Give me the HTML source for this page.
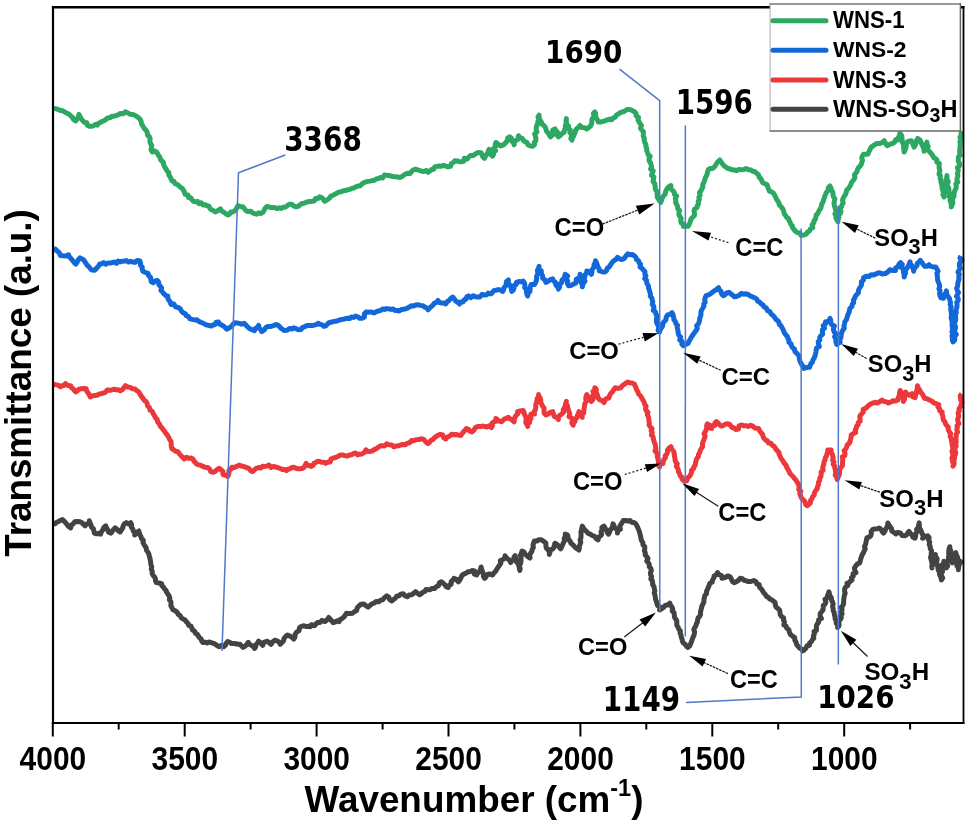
<!DOCTYPE html><html><head><meta charset="utf-8"><title>FTIR spectra</title><style>html,body{margin:0;padding:0;background:#fff;}svg{display:block;}text{font-family:"Liberation Sans",Arial,sans-serif;}</style></head><body>
<svg width="968" height="824" viewBox="0 0 968 824">
<rect width="968" height="824" fill="#fff"/>
<g fill="none" stroke-width="5.0" stroke-linejoin="round" stroke-linecap="butt">
<polyline stroke="#2DA862" points="54.0,108.5 55.2,108.6 57.6,109.2 59.9,110.3 62.4,110.7 64.5,111.9 66.6,113.1 68.9,114.0 70.7,115.8 72.5,117.4 73.6,119.7 75.8,121.0 77.1,118.9 78.4,116.9 78.9,114.4 80.1,116.7 81.4,118.9 83.0,121.0 84.5,122.4 86.8,122.8 87.4,125.3 89.3,126.2 91.4,126.2 93.4,125.9 95.3,124.4 97.5,125.1 98.6,123.0 100.7,122.3 102.5,121.3 104.5,120.5 106.2,119.1 107.9,117.9 110.1,117.6 111.9,116.3 114.1,116.2 116.2,115.6 118.2,114.8 120.4,113.4 123.4,113.7 125.4,111.7 127.7,112.9 129.9,114.2 132.6,114.4 134.6,115.2 136.5,116.3 138.2,117.6 139.9,118.9 141.0,121.3 141.6,123.9 143.0,126.2 143.9,128.0 145.3,129.5 146.6,131.1 147.4,132.9 147.5,135.2 149.2,136.5 150.1,138.6 149.9,141.0 150.3,143.2 151.8,145.2 151.4,147.6 151.1,149.9 152.3,152.0 154.4,150.8 156.4,152.0 157.6,153.7 158.5,155.5 159.9,157.1 160.3,159.2 161.6,160.8 163.3,162.2 163.6,164.4 164.5,166.7 165.9,168.7 167.0,170.9 168.8,172.6 168.8,175.0 170.1,176.8 171.1,178.9 171.9,180.9 174.0,181.5 175.0,183.7 177.1,184.3 178.7,185.6 180.2,187.1 182.2,188.3 183.4,190.2 184.5,192.1 185.1,194.4 188.0,194.9 188.4,197.4 190.6,197.7 191.8,199.6 193.2,201.2 195.2,201.8 197.7,201.6 198.8,203.6 201.2,202.7 202.8,204.9 205.1,204.7 207.0,205.7 209.1,206.4 210.0,208.6 211.6,209.9 213.6,210.7 215.3,211.9 217.1,211.0 218.9,210.1 220.5,208.8 221.7,211.1 223.9,212.2 225.7,213.7 227.7,215.0 229.6,214.2 230.7,212.1 232.9,211.9 234.8,210.8 235.9,209.2 237.0,207.5 238.0,205.7 240.0,206.4 242.7,206.7 244.4,208.7 246.0,210.7 248.3,211.6 250.7,211.2 252.5,212.8 254.5,213.6 256.6,214.2 258.6,212.8 260.7,213.6 263.0,212.4 264.1,210.2 265.3,208.1 266.9,206.4 268.9,206.9 270.9,207.5 273.0,207.4 275.1,207.7 277.1,208.6 279.3,207.8 281.3,208.5 283.3,207.2 285.7,207.0 287.5,205.4 289.6,204.3 291.8,204.3 293.6,205.9 295.6,206.7 297.9,206.4 299.8,205.1 301.6,203.6 304.0,203.3 306.1,202.3 308.2,201.8 310.2,201.4 312.3,201.2 314.5,200.8 315.6,198.4 318.1,198.5 319.5,196.7 321.7,197.6 323.3,199.3 324.7,201.2 326.5,200.2 328.2,199.2 329.7,197.8 330.9,196.1 333.1,195.2 335.1,194.1 337.2,193.0 339.2,191.9 341.3,191.7 343.3,190.8 345.4,190.6 347.4,189.9 349.6,189.4 351.6,188.4 353.8,188.0 355.7,186.8 357.9,186.1 360.4,185.8 362.0,183.8 364.0,182.6 366.0,181.9 368.0,181.4 370.1,181.1 372.2,180.6 374.5,180.3 376.3,178.9 378.5,178.5 380.5,177.5 382.8,178.0 384.3,175.0 386.6,175.3 388.8,175.4 390.8,176.0 392.9,176.5 395.0,176.8 397.1,176.8 399.1,177.5 401.4,176.8 403.3,175.6 405.2,174.1 407.4,173.3 410.1,173.6 411.6,171.4 413.4,169.9 415.6,169.2 417.7,169.8 419.8,170.5 421.8,171.3 423.9,171.6 426.2,170.4 428.0,172.3 430.0,170.9 431.5,169.5 433.7,169.2 434.7,166.9 436.8,166.4 439.1,166.0 441.4,166.2 443.6,165.2 445.8,166.1 448.0,166.9 450.5,166.4 451.2,163.9 453.3,162.5 455.0,160.7 457.3,160.9 459.5,161.8 461.8,161.8 463.9,161.2 464.3,158.2 467.3,159.0 468.6,157.3 470.5,155.4 473.4,155.4 475.5,153.9 478.1,152.4 481.1,152.7 482.1,154.7 482.8,156.9 484.5,158.4 485.3,156.5 486.4,154.8 487.7,153.2 488.3,151.2 489.1,149.3 490.3,151.5 490.5,154.2 492.5,156.1 493.6,154.3 493.3,152.2 495.6,150.7 493.8,148.2 495.5,146.5 495.3,144.4 495.9,142.5 498.2,144.3 500.5,145.9 502.9,145.1 505.0,143.6 506.2,142.0 507.6,140.4 507.6,138.0 509.5,136.8 511.4,138.3 511.5,141.0 513.5,142.5 514.1,144.8 514.4,142.7 515.1,140.8 517.5,139.7 518.1,137.7 518.6,135.7 519.5,137.8 522.1,138.3 523.2,140.2 524.9,141.6 527.0,142.5 528.0,144.8 530.0,145.9 532.5,146.3 534.5,144.8 534.2,142.6 535.9,140.6 535.9,138.4 535.4,136.2 534.6,133.9 536.9,132.0 536.2,129.8 536.2,127.6 536.8,125.5 537.5,123.5 538.0,121.4 539.1,119.5 538.0,117.1 539.1,115.2 539.2,117.7 539.8,120.0 541.4,122.0 541.8,124.2 543.7,125.4 545.1,126.9 545.9,128.9 546.5,131.2 548.1,132.9 549.3,134.9 550.5,136.8 552.4,135.2 552.6,132.8 552.7,130.2 555.0,128.9 556.1,130.8 557.7,132.4 557.1,135.0 558.4,136.8 560.4,135.4 562.0,133.5 564.1,132.3 564.5,130.0 565.4,127.8 565.3,125.5 566.4,123.3 566.0,120.9 566.4,118.6 566.3,120.7 566.5,122.7 566.9,124.7 568.7,126.3 568.3,128.5 570.4,130.1 569.8,132.3 571.0,134.1 572.0,135.9 570.8,138.4 572.0,140.2 572.1,138.0 573.5,136.4 574.2,134.5 575.1,132.7 575.5,130.6 576.6,128.9 578.4,127.3 580.0,125.5 581.8,127.6 584.5,127.8 586.8,128.9 588.6,127.6 590.3,126.3 591.4,124.3 591.9,122.2 591.8,119.9 592.8,118.0 594.3,116.1 593.3,113.6 594.8,111.8 595.8,113.7 595.6,116.1 596.4,118.1 597.5,120.0 598.2,122.0 600.5,122.1 602.7,121.4 605.0,120.9 607.2,119.8 609.4,119.2 611.8,119.8 613.1,118.0 615.3,117.1 616.4,115.2 618.5,113.8 620.7,112.4 623.2,111.8 625.3,110.6 627.4,109.4 630.0,109.5 632.3,110.6 634.5,111.8 636.1,113.5 636.1,115.9 638.5,117.2 638.0,119.9 639.1,121.8 640.1,123.8 641.5,125.6 640.5,128.1 641.7,130.0 643.5,131.7 643.3,134.0 643.3,136.3 644.3,138.2 644.2,140.5 644.9,142.6 645.9,144.5 646.0,146.6 646.7,148.6 646.7,150.8 647.6,152.7 648.2,154.7 650.2,156.3 649.0,158.8 649.2,160.9 650.5,162.7 651.1,164.7 651.6,166.8 650.6,169.1 653.2,170.8 652.3,173.1 651.5,175.4 653.9,177.1 653.4,179.4 653.1,181.6 654.7,183.4 655.0,185.5 655.2,187.5 655.4,189.5 657.0,191.2 657.0,193.3 657.3,195.3 657.4,197.3 658.4,199.1 659.6,200.8 660.7,202.5 661.5,200.4 662.0,198.1 663.4,196.2 665.0,194.4 665.5,192.1 666.4,190.0 667.5,188.1 669.0,186.6 670.9,185.5 670.6,188.5 672.6,190.3 674.3,192.3 674.4,194.4 676.7,196.0 675.3,198.5 675.9,200.5 675.6,202.7 676.8,204.6 677.6,206.6 677.7,208.7 679.6,210.4 678.9,212.7 679.0,214.9 680.0,216.7 681.2,218.4 680.7,220.8 681.1,222.8 683.6,224.2 683.4,226.4 685.7,226.0 688.0,226.4 689.1,224.7 689.9,222.8 690.5,220.8 691.1,218.9 692.5,217.3 694.4,215.7 694.5,213.5 694.0,211.1 694.6,209.1 697.0,207.7 697.3,205.6 698.5,203.8 698.2,201.4 699.3,199.5 698.9,197.1 700.2,195.2 699.4,192.7 700.9,190.9 701.9,189.0 702.8,187.0 702.7,184.7 703.7,182.7 704.6,180.8 705.0,178.6 706.1,176.4 707.1,174.2 707.7,171.8 708.4,169.5 710.2,168.6 712.4,168.5 714.1,167.3 715.5,165.5 716.6,163.3 718.1,161.6 719.8,160.0 720.9,161.7 722.1,163.3 723.2,165.0 725.4,166.8 727.7,168.4 730.0,169.0 732.2,169.7 734.5,170.0 736.8,170.7 738.9,169.4 741.4,169.8 743.8,169.6 745.9,168.4 748.1,169.5 750.5,170.0 752.6,171.2 755.0,171.8 756.8,173.3 758.6,174.8 759.1,177.3 760.9,178.7 761.8,180.9 762.8,182.8 765.0,183.7 767.1,184.7 767.7,186.9 768.6,188.9 769.3,191.1 771.5,191.9 773.4,193.1 774.5,194.9 775.5,196.8 776.4,198.9 777.5,200.8 778.8,202.6 779.3,204.9 780.8,206.5 782.3,208.2 783.3,210.0 783.9,211.9 784.3,214.0 785.7,215.6 786.6,217.4 788.7,218.6 789.1,220.7 790.2,222.4 790.8,224.4 792.4,225.8 792.7,227.9 794.0,229.5 795.3,231.0 797.2,232.5 799.6,232.9 801.0,235.4 803.8,235.0 806.1,234.2 807.5,232.2 809.5,230.9 810.5,228.9 812.8,227.5 812.1,224.7 813.7,223.0 814.1,220.7 815.5,219.1 815.9,217.1 816.2,214.9 817.8,213.5 818.6,211.6 819.6,209.8 820.8,208.1 821.3,206.1 821.7,204.0 822.9,202.3 823.5,200.3 824.1,198.3 824.8,196.4 825.5,194.5 826.5,192.3 828.1,190.4 828.3,187.8 830.0,186.0 831.0,188.0 831.4,190.3 832.9,192.2 833.0,194.6 833.4,196.8 834.9,198.7 834.4,201.0 834.0,203.2 834.3,205.3 835.0,207.3 835.4,209.4 836.5,211.4 834.9,213.8 836.0,215.8 835.9,218.0 836.9,220.0 838.0,221.8 838.0,219.6 838.9,217.5 838.4,215.2 840.4,213.4 841.0,211.3 839.8,208.8 841.4,206.9 842.1,204.8 843.2,202.8 842.5,200.2 843.2,198.0 844.4,196.0 845.7,194.1 846.3,192.0 846.8,189.9 848.6,188.4 849.6,186.6 850.8,184.8 851.4,182.7 852.7,181.0 854.1,179.3 854.9,177.3 854.5,174.7 855.9,173.1 857.1,171.3 857.6,169.2 858.7,167.4 860.3,165.9 861.4,164.2 861.8,162.2 862.5,160.3 861.7,158.0 862.4,156.0 863.5,154.2 865.6,154.2 867.8,154.2 868.9,151.8 870.0,149.4 871.3,147.1 873.4,145.6 875.6,144.2 877.7,143.4 879.9,143.5 882.3,142.5 884.2,140.7 885.4,143.3 887.0,145.6 888.9,144.9 890.7,143.8 892.7,143.5 894.5,142.2 895.6,139.7 898.4,139.9 898.3,137.6 899.4,135.6 899.9,133.5 901.8,135.7 902.0,138.5 902.2,140.8 902.6,143.0 903.9,145.2 903.5,147.5 903.9,149.8 904.1,152.1 905.1,150.0 905.9,147.9 906.2,145.7 906.5,143.4 907.7,141.4 911.3,140.7 912.3,142.8 913.2,145.0 914.1,147.1 915.4,145.1 916.1,142.9 916.4,140.5 917.7,138.5 920.1,140.1 921.2,142.8 922.1,144.9 923.1,146.9 924.0,149.0 924.1,151.3 924.7,149.0 925.2,146.6 926.3,144.4 926.9,142.1 927.1,144.5 928.2,146.6 927.2,149.3 929.1,151.3 931.0,153.3 932.7,155.6 933.6,157.5 935.4,158.5 936.9,159.9 936.8,162.1 939.4,163.5 939.1,165.8 939.1,167.9 939.8,169.9 939.7,171.9 939.0,174.1 940.4,175.9 940.2,178.0 940.7,179.9 940.9,181.9 941.5,183.9 942.1,185.8 942.0,187.9 942.6,189.8 943.7,192.1 942.9,194.7 944.1,197.0 943.8,194.8 944.8,192.7 946.2,190.7 945.1,188.4 945.5,186.3 946.5,184.3 946.1,182.0 945.9,179.8 946.8,177.8 946.9,175.6 946.9,177.7 947.1,179.7 948.3,181.6 947.1,183.9 947.4,185.9 948.7,187.8 949.0,189.8 949.1,192.0 949.8,194.0 949.0,196.3 950.5,198.3 950.0,200.5 950.9,202.6 951.3,204.7 951.2,206.9 952.1,204.9 952.9,202.8 952.6,200.5 952.7,198.3 954.0,196.3 954.0,194.1 954.4,192.1 955.0,190.1 956.1,188.2 956.3,186.1 955.8,183.9 957.8,182.2 956.9,179.9 957.2,177.9 957.9,176.0 957.4,173.8 958.0,171.9 958.3,169.9 957.4,167.7 959.7,165.7 959.6,163.6 958.3,161.3 958.3,159.1 958.4,157.0 960.2,155.0 959.7,152.8 959.6,150.6 960.0,148.4 960.0,146.2 960.3,144.0 959.9,141.8 960.7,139.6 960.0,137.3 961.0,135.2 961.2,133.0 961.6,131.0"/>
<polyline stroke="#1368D9" points="54.0,249.0 55.2,249.0 57.1,251.0 59.3,252.7 60.4,255.5 63.4,255.8 66.1,255.9 68.6,254.8 69.5,257.1 71.2,258.8 72.7,260.5 74.0,262.5 75.8,264.1 77.2,262.0 78.3,259.7 80.0,257.9 82.0,258.9 83.8,260.1 85.1,262.0 86.3,263.9 87.6,265.7 89.3,267.2 91.3,269.7 94.4,270.3 96.0,269.0 97.2,267.4 98.7,266.0 99.6,264.1 101.7,264.0 103.6,262.6 105.8,264.2 107.8,263.1 109.9,263.1 112.0,262.8 114.0,262.0 116.6,263.3 118.2,261.0 120.3,261.8 122.3,261.3 124.4,261.0 126.5,260.6 128.4,262.1 130.6,261.3 132.6,262.0 135.1,262.4 137.3,260.5 139.9,261.0 140.5,263.1 140.5,265.3 142.2,267.0 142.2,269.3 143.0,271.3 145.5,272.5 148.1,273.4 148.6,275.6 150.4,277.0 150.8,279.2 151.1,281.5 153.3,282.7 155.0,280.9 157.4,280.6 158.7,282.3 158.8,284.5 160.3,286.2 161.6,287.9 160.9,290.5 162.6,292.0 163.9,293.9 165.6,295.3 167.8,296.1 167.9,298.4 168.9,300.4 170.5,302.2 170.9,304.4 173.9,304.1 175.5,306.8 178.1,307.5 180.2,308.7 181.3,310.9 182.9,312.7 185.2,313.6 186.4,315.7 188.5,316.6 190.0,318.8 192.3,319.4 194.6,319.9 197.0,319.8 198.8,321.4 200.8,322.3 202.9,323.0 204.8,324.2 206.9,325.1 209.1,325.4 211.2,326.1 213.0,325.0 215.1,324.5 216.2,322.2 218.4,321.9 219.5,324.0 221.5,325.0 223.5,326.1 225.2,327.5 226.7,329.2 229.4,327.8 231.8,326.1 233.1,324.3 234.6,322.8 237.0,323.0 239.4,323.4 241.7,324.2 244.1,323.3 245.9,325.0 247.5,326.8 249.3,328.5 251.9,329.6 254.5,330.6 255.4,328.5 257.5,327.3 258.6,325.4 259.1,327.7 260.6,329.6 261.7,331.6 264.2,330.0 265.8,327.5 268.3,326.4 271.0,326.4 273.7,325.6 276.2,324.4 278.1,325.3 279.6,326.7 281.0,328.3 282.7,329.5 284.4,330.6 287.2,330.1 289.6,328.5 291.7,329.0 293.7,327.8 295.8,328.5 298.2,329.8 301.0,329.5 302.5,327.4 305.1,326.7 307.1,325.4 309.2,325.6 311.2,325.4 313.3,325.4 316.0,324.7 318.5,323.3 320.2,324.4 322.3,324.9 323.7,326.4 325.8,325.8 327.3,324.3 328.8,322.8 330.9,322.3 333.0,321.8 335.0,321.2 337.2,320.9 339.2,320.2 341.2,319.4 343.3,319.3 345.3,318.6 347.4,318.2 349.7,318.6 351.5,316.9 353.8,317.4 355.7,316.1 357.8,316.8 359.6,318.2 361.9,318.2 364.5,316.9 364.4,313.9 366.0,312.0 368.1,312.3 370.2,311.9 372.3,312.3 374.3,313.0 376.2,311.7 378.5,311.0 380.8,310.4 382.6,308.9 384.7,309.4 386.7,308.6 388.8,308.9 390.8,309.4 393.1,308.9 394.9,310.5 397.1,310.4 399.1,311.0 401.0,309.7 403.1,309.2 405.3,308.9 407.5,308.2 409.5,306.9 411.5,305.8 413.6,305.9 415.6,304.9 417.7,304.8 420.3,305.4 422.9,305.8 424.7,307.1 426.9,307.8 428.0,309.9 429.7,308.1 431.4,306.4 433.2,304.8 434.5,303.1 436.7,302.3 438.0,300.5 439.5,302.6 441.6,303.0 443.9,303.1 445.9,303.9 447.1,301.7 449.2,300.4 450.7,298.5 452.7,297.0 454.3,298.8 455.6,301.0 457.8,302.2 459.5,303.9 460.4,301.9 463.1,301.9 464.1,299.9 466.1,299.2 466.7,296.8 468.6,295.9 470.7,297.7 473.2,295.7 475.4,296.8 477.7,297.0 480.1,296.9 481.9,294.4 484.4,294.9 486.8,294.8 488.2,293.0 490.9,293.9 492.5,292.4 493.8,290.6 495.9,290.2 498.4,289.6 500.6,290.0 502.7,291.4 503.7,289.5 504.2,287.4 505.8,285.8 506.2,283.7 506.5,281.4 508.4,280.0 508.0,282.6 509.5,284.6 510.8,286.7 511.3,289.1 511.8,291.4 513.4,289.9 514.1,288.0 513.9,285.6 516.3,284.5 516.4,282.3 518.6,281.5 521.0,281.8 523.2,281.1 524.5,283.0 524.9,285.2 524.7,287.6 526.5,289.3 526.4,291.7 526.8,293.9 527.7,295.9 528.0,293.5 529.9,291.6 530.1,289.2 530.3,286.8 531.1,284.5 534.5,284.5 535.6,282.6 536.3,280.7 536.8,278.7 536.5,276.4 537.5,274.6 537.8,272.5 537.4,270.3 538.4,268.4 539.1,266.4 538.8,269.1 541.3,270.8 541.4,273.3 542.5,275.5 542.7,278.2 545.0,279.9 545.9,282.3 548.2,281.2 550.2,279.6 552.7,278.9 553.6,281.1 555.6,282.6 555.9,285.2 557.7,286.8 558.4,289.1 559.7,286.9 559.7,284.1 561.8,282.3 562.0,280.0 564.0,278.5 564.7,276.4 565.2,274.3 567.7,276.0 565.7,279.1 567.7,281.0 567.4,283.6 568.6,285.7 571.1,285.5 573.2,284.1 575.5,283.4 576.2,281.5 576.2,279.2 578.5,278.1 580.1,276.6 580.0,274.3 581.1,276.2 580.1,278.6 580.7,280.6 581.0,282.7 582.6,284.6 582.3,286.8 582.8,284.8 583.6,282.9 585.0,281.1 584.0,278.7 584.8,276.8 585.2,274.7 586.7,273.0 586.8,270.9 589.7,271.8 591.4,274.3 591.9,272.3 591.8,270.2 593.0,268.4 594.2,266.7 594.0,264.5 595.3,262.8 595.5,260.7 596.5,262.6 597.1,264.8 597.9,266.8 599.1,268.7 599.3,270.9 602.1,271.7 605.0,272.0 606.7,270.4 607.3,268.1 609.4,266.8 610.5,264.8 611.8,263.0 613.0,261.4 614.7,260.2 616.4,259.1 617.5,257.3 619.6,258.8 622.0,259.5 624.5,258.3 625.9,255.9 627.7,253.9 629.9,254.7 632.5,254.4 634.5,255.9 635.9,257.4 636.5,259.5 638.5,260.6 639.1,262.7 640.6,264.3 640.0,267.0 642.0,268.4 643.5,270.0 645.0,271.6 644.8,274.1 645.9,275.9 644.6,278.5 646.5,280.1 646.7,282.1 647.2,284.1 648.5,285.9 648.5,288.1 649.3,290.0 649.8,292.0 650.5,294.0 650.2,296.2 651.8,298.0 652.3,300.0 652.8,302.0 652.2,304.3 653.7,306.1 653.9,308.2 653.3,310.4 655.6,312.0 655.8,314.0 657.2,315.8 656.6,318.0 656.4,320.1 656.5,322.2 657.3,324.1 658.4,325.9 658.7,328.0 658.1,330.3 659.5,332.0 660.1,329.8 661.4,327.9 662.6,326.0 662.6,323.6 664.1,321.8 665.9,319.9 666.2,317.2 667.5,315.0 670.0,314.3 672.0,312.7 673.1,314.9 673.6,317.3 674.0,319.8 675.5,321.8 675.9,323.8 677.6,325.4 677.1,327.6 677.7,329.6 678.1,331.6 678.3,333.6 678.9,335.5 680.7,337.1 679.7,340.0 682.1,341.4 681.8,344.0 683.4,345.7 685.6,344.3 688.0,343.4 688.9,341.3 690.2,339.4 691.2,337.4 692.5,335.5 693.7,333.7 695.0,332.0 696.3,330.3 697.3,328.4 696.6,325.7 698.2,324.1 699.1,322.2 699.6,320.2 699.8,318.1 700.6,316.2 701.0,314.2 700.9,312.0 701.6,310.0 702.7,308.2 703.8,306.3 703.8,304.0 705.2,302.2 704.7,299.8 705.2,297.7 706.1,295.7 709.5,294.5 711.8,292.8 714.1,291.1 716.4,289.4 718.6,287.7 719.3,290.0 721.2,291.5 721.6,293.9 723.2,295.7 725.2,294.7 726.7,293.0 728.9,292.3 730.8,293.7 732.7,295.2 734.5,296.8 737.1,296.2 739.4,295.2 741.4,293.4 743.6,294.2 746.0,293.8 748.2,294.5 750.3,296.0 752.7,296.9 755.0,298.0 756.8,299.2 757.7,301.3 759.9,302.2 761.2,303.9 763.0,305.0 764.1,307.0 766.4,308.1 767.4,310.6 769.9,311.5 770.9,313.9 772.9,315.3 774.5,317.1 775.8,319.2 777.7,320.7 779.0,322.3 779.3,324.5 781.1,325.8 782.0,327.6 783.0,329.4 783.8,331.3 784.5,333.2 785.9,334.8 787.2,336.4 787.9,338.3 788.9,340.1 788.9,342.4 791.0,343.6 791.4,345.7 792.6,347.7 794.5,349.1 794.9,351.6 796.7,353.2 798.3,354.9 799.3,357.0 799.4,359.2 800.0,361.1 800.8,363.0 801.8,364.8 803.1,366.5 803.9,368.4 806.6,367.4 809.5,367.3 810.2,365.3 811.0,363.5 812.5,362.0 812.9,359.9 814.1,358.2 814.9,356.2 815.5,354.2 815.9,352.1 816.2,350.0 816.6,347.9 819.3,346.5 818.5,344.0 818.2,341.7 819.8,340.0 819.7,337.7 820.7,335.8 822.7,334.3 822.4,331.9 822.4,329.7 824.6,328.2 823.2,325.5 825.5,324.0 825.5,321.8 828.8,321.4 830.0,318.4 830.7,320.4 830.8,322.7 831.7,324.6 834.4,326.0 833.4,328.6 833.6,330.6 834.6,332.5 836.3,334.2 834.6,336.7 835.9,338.5 835.8,340.6 836.1,342.6 836.8,344.5 838.3,343.1 840.2,342.3 839.3,339.9 840.8,338.1 841.1,336.0 841.3,333.9 842.0,331.9 842.9,330.0 844.3,328.2 843.9,325.9 844.5,323.9 844.8,321.8 846.4,319.8 847.1,317.4 847.7,315.0 848.9,312.8 849.4,310.6 849.9,308.4 851.9,306.7 852.2,304.4 853.7,302.6 853.4,300.1 854.7,298.2 855.4,296.1 856.9,294.4 858.4,292.8 858.5,290.4 859.3,288.4 860.6,286.6 861.6,284.5 861.3,281.9 863.4,280.2 863.5,277.8 866.2,276.3 869.3,276.4 871.2,274.7 873.7,274.9 875.6,274.2 877.4,273.2 879.5,272.8 882.3,273.9 885.3,273.5 887.8,272.0 889.7,269.8 892.6,270.5 895.5,270.6 895.7,267.9 898.0,266.6 898.9,264.3 900.6,262.6 902.3,264.4 900.6,267.0 903.3,268.5 903.3,270.7 903.7,272.8 904.1,274.9 904.2,277.1 904.8,275.1 905.5,273.2 905.1,270.9 906.4,269.1 907.5,267.4 908.6,265.6 909.3,263.7 910.1,261.8 909.9,264.0 911.8,265.5 912.5,267.4 913.3,269.3 913.7,271.3 913.9,269.0 915.4,267.3 917.0,265.6 917.3,263.3 919.0,262.1 920.2,260.4 921.7,262.3 923.1,264.3 924.6,266.2 927.1,266.2 929.0,264.7 930.8,266.4 933.3,266.9 935.7,267.0 937.0,269.1 938.1,271.2 936.9,273.5 937.3,275.7 937.5,277.9 937.6,280.1 938.4,282.2 939.3,284.3 939.7,286.5 938.9,288.8 940.1,290.8 939.6,293.1 939.9,295.3 940.9,297.7 943.5,298.2 943.5,295.4 945.7,293.4 946.4,290.9 946.5,293.7 947.7,296.1 949.4,298.2 949.9,300.4 950.5,302.5 950.2,304.8 951.2,306.9 950.6,309.1 951.2,311.3 951.4,313.5 951.5,315.7 951.1,317.7 951.7,319.7 952.2,321.7 952.1,323.8 952.2,325.8 952.4,327.8 952.6,329.8 951.9,331.9 952.8,333.8 952.0,335.9 952.4,337.9 952.3,339.9 953.0,341.9 954.5,340.4 954.9,338.4 954.0,336.3 956.3,334.5 954.8,332.4 954.5,330.4 955.4,328.4 955.5,326.4 954.3,324.3 954.8,322.3 955.6,320.4 955.7,318.4 955.4,316.4 955.6,314.4 956.3,312.4 955.8,310.4 956.6,308.4 957.0,306.4 957.0,304.4 956.7,302.4 958.2,300.5 958.2,298.5 956.5,296.3 957.5,294.4 958.5,292.5 957.3,290.4 956.6,288.3 957.5,286.4 957.8,284.4 957.9,282.4 958.7,280.4 959.0,278.4 958.8,276.4 959.4,274.4 958.0,272.2 959.0,270.2 960.3,268.3 959.5,266.2 959.4,264.1 960.1,262.1 961.9,260.2 959.9,257.9 961.0,256.0"/>
<polyline stroke="#EC383B" points="54.0,384.6 55.2,384.6 58.0,385.1 60.3,386.7 62.1,385.8 64.2,385.3 65.5,383.6 67.8,385.5 70.7,385.7 71.4,387.7 73.2,388.8 74.4,390.5 75.8,391.9 77.5,390.7 78.9,389.2 81.0,388.8 83.6,388.5 86.2,388.8 86.7,391.1 88.1,393.0 89.4,394.9 90.3,397.0 92.5,395.7 95.1,395.6 97.5,395.0 99.5,393.9 101.7,393.5 103.8,392.9 105.8,391.9 107.4,389.9 109.9,390.4 112.0,389.8 114.2,389.2 116.2,389.7 118.2,389.8 120.2,390.8 122.4,389.6 123.9,387.7 125.4,385.7 127.7,387.0 130.4,387.4 132.6,388.8 135.1,389.1 136.8,390.7 138.8,391.9 140.2,394.5 141.9,397.0 143.2,398.5 144.2,400.4 146.0,401.5 147.1,403.2 147.5,405.8 149.4,407.6 150.0,410.1 152.3,411.5 153.2,413.6 154.5,415.6 155.4,417.7 157.2,419.5 157.7,422.1 159.5,423.9 160.2,426.1 161.9,427.7 163.0,429.6 164.6,431.2 165.7,433.2 167.4,435.1 168.8,437.3 169.6,439.5 171.1,441.6 171.2,444.0 171.3,446.4 171.9,448.7 173.9,449.8 175.7,451.3 178.1,451.8 179.4,453.8 181.0,455.6 182.7,457.2 184.3,459.0 186.5,457.3 189.1,458.4 191.5,458.0 193.2,459.2 193.9,461.3 195.5,462.5 196.7,464.2 198.8,464.8 201.0,465.4 203.0,466.4 205.0,467.3 207.7,467.6 209.6,469.0 210.8,471.7 213.2,472.4 215.4,471.2 217.2,469.4 219.4,468.3 221.2,469.8 222.9,471.5 223.0,474.6 225.8,475.2 227.7,476.6 228.5,474.7 229.0,472.7 228.9,470.4 231.0,469.2 231.8,467.3 234.4,467.4 236.8,466.4 239.0,465.2 241.4,466.1 243.9,466.4 246.2,467.5 248.7,468.3 250.3,470.3 252.4,471.6 254.3,470.0 256.2,468.3 258.6,467.5 260.8,468.1 262.6,466.2 264.8,466.4 266.9,466.1 269.0,465.0 271.0,467.4 273.1,466.4 275.5,467.0 277.9,467.7 280.3,468.5 282.3,469.4 284.6,469.4 286.5,470.6 288.0,469.2 290.1,468.7 291.7,467.5 293.8,467.2 295.8,468.1 297.8,468.8 299.9,468.7 302.0,468.5 304.0,467.3 305.2,465.4 306.1,463.3 307.3,465.2 309.5,465.5 311.3,466.4 313.0,465.3 314.0,463.3 315.9,462.5 317.5,461.3 319.7,461.4 321.6,462.3 323.8,462.2 325.7,463.3 327.6,462.2 330.2,462.0 330.9,459.1 333.0,458.2 335.5,457.5 337.9,456.5 340.2,455.1 342.7,455.0 345.0,455.6 347.4,456.1 349.4,455.0 351.6,454.8 353.5,453.4 355.7,453.0 357.5,454.9 359.8,454.2 361.9,454.0 364.4,452.4 366.0,449.9 367.8,451.5 370.0,451.4 372.2,451.0 374.2,449.6 376.5,448.6 378.4,447.1 380.5,445.8 382.6,445.7 384.7,445.9 386.6,443.9 388.8,444.8 391.7,444.9 393.9,446.8 396.3,445.9 398.8,445.7 401.2,444.8 403.2,444.5 405.3,444.8 407.3,443.3 409.8,442.5 411.5,440.6 413.6,440.7 415.6,439.9 417.7,439.6 419.8,439.4 421.8,438.7 423.9,439.6 425.8,441.8 428.0,443.7 429.7,442.2 430.9,440.3 433.1,439.4 434.5,437.7 436.3,436.4 438.2,435.2 440.2,434.3 442.7,435.0 443.7,437.8 445.9,438.9 447.5,437.0 449.8,436.0 451.6,434.3 453.9,434.7 456.2,434.5 458.4,435.1 460.7,435.5 462.0,433.7 463.4,431.9 465.0,430.4 466.4,428.6 468.5,429.4 469.9,431.2 472.0,432.0 473.9,430.2 475.3,427.7 477.7,426.4 480.0,426.6 482.2,426.1 484.5,426.4 486.8,427.0 489.3,425.7 491.4,427.5 492.4,425.8 492.0,423.2 493.8,421.9 496.7,421.0 495.9,418.4 497.6,419.8 499.4,421.2 501.6,421.8 503.0,420.3 504.6,418.9 506.6,418.3 508.4,417.3 510.2,418.9 512.3,420.2 514.1,421.8 514.3,419.6 514.9,417.5 515.9,415.6 517.7,413.9 517.5,411.6 520.3,411.0 523.2,410.5 524.0,412.4 524.5,414.4 525.5,416.3 526.3,418.2 526.0,420.5 525.8,422.6 526.9,424.5 527.7,426.4 527.4,424.1 529.7,422.5 529.5,420.2 531.0,418.4 530.4,416.0 531.1,413.9 534.5,413.9 534.1,411.6 535.5,409.6 535.8,407.4 535.7,405.1 536.3,403.0 537.0,400.9 537.1,398.7 538.5,396.7 538.6,394.5 539.1,396.5 540.2,398.2 540.8,400.1 540.7,402.3 541.6,404.1 542.5,405.9 544.0,407.9 544.1,410.5 544.1,413.1 545.9,415.0 548.2,414.0 550.2,412.3 552.7,411.6 553.4,414.1 554.3,416.4 556.9,417.6 558.4,419.5 558.3,416.9 559.9,415.3 561.8,413.9 563.6,412.2 563.2,409.7 564.5,407.8 565.2,405.7 565.7,403.5 566.4,401.4 566.0,403.8 567.4,405.6 567.7,407.8 568.4,409.8 569.0,411.9 569.8,413.9 569.0,416.6 571.8,418.2 572.5,420.5 571.8,423.1 573.2,425.2 573.4,423.0 575.0,421.4 575.1,419.1 577.0,417.7 577.3,415.5 578.5,413.7 578.9,411.6 580.4,413.3 581.2,415.4 582.3,417.3 581.4,415.0 583.6,413.3 583.8,411.1 584.0,409.0 584.4,406.9 584.6,404.8 585.2,402.8 586.7,400.9 585.7,398.6 586.1,396.5 586.8,394.5 587.6,396.5 589.0,398.0 590.5,399.5 591.4,401.4 592.9,399.7 593.4,397.7 592.7,395.5 594.4,393.8 593.0,391.4 595.2,389.9 594.8,387.7 596.4,389.5 595.9,391.9 596.9,393.9 597.7,395.9 598.2,398.0 599.8,399.8 602.3,400.6 603.9,402.5 605.0,400.5 606.2,398.7 608.8,398.0 609.5,395.7 610.7,393.5 612.5,391.8 613.7,389.6 615.2,387.7 618.0,388.4 620.9,387.7 622.2,385.8 624.0,384.5 625.8,383.2 627.7,382.0 629.9,382.9 632.4,383.1 634.5,384.2 635.2,386.2 636.1,388.1 636.8,390.1 638.0,391.9 638.5,394.0 640.2,395.5 641.3,397.2 642.3,399.0 643.3,400.7 644.2,402.5 644.8,404.5 646.1,406.3 645.5,408.6 646.2,410.6 648.0,412.3 647.3,414.6 648.2,416.5 648.8,418.5 648.9,420.6 649.3,422.7 649.1,424.9 650.2,426.8 652.0,428.5 651.1,430.8 652.3,432.7 651.4,435.1 653.1,436.8 653.4,438.9 653.9,440.9 654.5,442.8 655.3,444.7 655.6,446.7 655.9,448.7 655.0,450.9 656.7,452.6 657.3,454.5 657.3,456.6 657.9,458.7 658.3,460.8 658.5,462.9 658.3,465.1 659.5,467.0 660.0,464.0 663.0,463.6 663.3,461.5 663.8,459.6 665.4,457.9 665.1,455.7 666.8,454.1 667.5,452.2 667.5,450.0 669.0,448.1 670.9,446.6 671.7,449.0 673.4,451.0 674.3,453.4 674.3,455.6 674.9,457.7 675.0,459.9 675.7,462.0 677.3,463.8 676.3,466.3 677.7,468.2 678.4,470.1 678.6,472.2 679.9,473.9 680.2,476.0 682.2,477.4 682.3,479.5 684.3,480.9 686.8,480.7 687.5,478.4 689.1,476.7 690.5,474.9 691.4,472.7 691.5,470.4 693.3,468.8 694.0,466.8 695.3,465.0 695.6,462.8 696.0,460.6 696.8,458.5 698.2,456.8 698.5,454.5 699.7,452.6 700.3,450.4 701.4,448.4 702.7,446.5 702.4,444.0 703.0,441.8 703.9,439.8 704.6,437.9 705.1,435.9 704.0,433.6 705.3,431.8 706.1,429.9 706.8,428.0 706.6,425.8 707.3,423.9 709.2,425.0 709.4,427.8 711.8,428.4 711.4,425.7 714.8,425.5 714.9,423.1 716.4,421.6 718.1,422.9 719.4,424.6 720.9,426.1 723.0,425.8 724.8,424.5 726.7,423.7 728.9,423.9 730.5,425.4 731.8,427.3 734.1,428.0 735.7,429.5 738.4,429.1 739.0,425.9 741.4,425.0 743.6,425.7 745.9,425.7 748.1,426.4 750.5,425.2 752.7,426.1 754.2,427.6 756.1,428.3 758.6,428.4 759.5,430.7 760.9,432.5 762.5,434.2 763.1,436.5 764.1,438.6 765.6,440.1 767.5,440.9 768.6,443.0 770.9,443.2 772.0,445.0 773.9,446.1 775.1,447.8 776.2,449.7 777.7,451.1 779.0,452.7 779.3,454.8 780.3,456.6 781.1,458.5 782.4,460.1 783.4,461.9 784.5,463.6 786.2,465.2 786.7,467.5 788.0,469.3 789.0,471.3 790.0,473.3 791.4,475.0 793.1,476.5 794.3,478.3 795.9,479.9 797.0,481.8 798.1,483.6 799.0,485.5 799.0,487.5 798.7,489.7 800.8,491.3 799.7,493.6 800.5,495.5 801.2,497.5 802.3,499.2 804.0,500.5 805.2,502.2 805.6,504.4 807.3,505.7 808.8,504.3 810.4,502.9 810.5,500.5 811.8,498.9 812.6,496.7 814.3,495.0 814.5,492.6 815.6,490.6 817.3,488.8 817.5,486.4 818.6,484.5 818.5,482.3 819.6,480.4 819.8,478.2 821.0,476.3 821.2,474.2 821.1,471.9 823.1,470.3 822.7,468.0 823.2,465.9 823.9,463.9 824.0,461.8 825.0,460.0 825.3,457.9 826.4,456.1 826.9,454.1 827.9,452.2 827.7,450.0 831.1,450.0 831.0,452.1 832.2,453.9 832.7,455.9 833.2,457.9 832.6,460.1 834.0,461.8 833.1,464.1 834.5,465.9 834.8,468.2 835.4,470.4 835.7,472.7 835.2,475.2 836.7,477.3 837.3,479.5 838.3,476.7 839.5,474.1 839.5,471.9 839.7,469.7 840.7,467.7 842.4,465.9 842.5,463.7 842.6,461.5 842.8,459.3 842.3,457.0 844.9,455.4 845.0,453.2 844.1,450.7 845.8,448.9 846.7,447.0 847.2,444.8 849.2,443.5 850.0,441.5 850.5,439.4 851.1,437.4 851.2,435.0 853.2,433.6 855.7,432.5 855.2,429.9 856.3,428.2 856.6,426.1 858.2,424.6 858.2,422.5 860.2,421.2 860.0,418.9 859.8,416.2 861.4,414.1 863.3,412.1 863.1,409.4 865.6,408.4 867.5,406.6 869.4,404.7 872.6,403.1 875.0,402.3 877.3,403.1 879.7,401.6 882.0,400.0 883.9,401.4 886.4,401.9 888.4,403.1 890.8,402.0 893.1,400.8 895.5,401.0 897.8,400.0 898.2,397.6 899.4,395.3 899.5,392.8 900.2,390.5 901.4,392.5 902.3,394.7 902.4,397.0 903.2,399.2 903.3,401.5 904.5,399.3 904.6,396.8 904.0,394.2 905.7,392.1 906.7,394.3 908.9,395.2 912.0,393.7 912.5,396.6 915.2,397.6 915.3,395.6 916.3,393.7 916.3,391.7 917.2,389.8 917.2,387.8 917.5,385.8 918.3,388.0 919.6,390.0 920.7,392.1 922.3,394.0 923.5,396.2 924.6,398.4 927.1,398.8 929.4,400.0 932.0,401.2 934.1,403.1 936.5,403.7 938.8,404.7 938.0,407.1 939.6,408.7 939.6,410.8 942.2,412.0 942.0,414.2 942.9,416.1 943.0,418.3 943.6,420.3 945.1,422.0 945.6,424.0 946.9,425.7 948.3,427.4 948.2,429.7 949.1,431.5 950.7,433.6 950.1,436.3 951.2,438.5 951.5,441.0 952.0,443.1 952.2,445.2 952.8,447.2 952.8,449.4 951.9,451.5 952.7,453.6 952.9,455.7 952.0,457.8 952.3,459.9 952.6,462.0 953.8,464.0 953.0,466.2 954.0,464.3 954.1,462.3 953.6,460.1 954.6,458.3 954.4,456.3 955.4,454.3 955.7,452.3 954.9,450.2 954.6,448.2 956.2,446.3 955.3,444.2 956.3,442.3 955.9,440.2 956.0,438.2 956.2,436.2 956.2,434.1 957.6,432.1 956.8,429.9 957.3,427.8 957.1,425.7 958.9,423.7 958.0,421.5 957.6,419.3 958.5,417.3 958.7,415.1 958.1,412.9 959.3,410.8 959.0,408.6 960.7,406.7 961.1,404.5 962.0,402.5 960.7,400.1 960.6,397.9 960.2,395.7 961.7,393.7"/>
<polyline stroke="#434343" points="54.0,523.8 55.2,523.8 56.7,522.3 58.7,521.5 60.4,520.3 62.4,519.6 64.6,521.6 66.5,523.8 68.3,526.2 70.7,527.9 71.2,525.3 73.3,523.7 74.8,521.7 77.4,521.4 80.0,521.7 82.0,522.7 83.4,524.4 85.1,525.8 86.5,524.1 89.0,523.3 89.3,520.7 90.0,522.8 91.0,524.8 91.4,527.1 93.3,528.7 93.9,530.9 94.4,533.1 96.4,533.8 98.6,533.5 100.6,534.1 101.4,531.7 102.9,529.8 103.8,527.4 105.8,525.8 106.5,528.0 107.8,529.9 108.4,532.2 111.0,533.1 112.2,531.3 113.6,529.5 115.1,527.9 116.9,529.2 118.3,530.9 120.2,532.0 121.3,530.0 122.7,528.1 123.2,525.8 124.4,523.8 126.3,522.6 128.7,524.0 130.6,522.7 131.6,524.7 131.3,527.1 132.8,528.8 133.3,531.0 135.0,532.7 134.7,535.1 136.3,532.6 138.8,531.0 139.3,533.0 139.9,534.9 141.0,536.7 141.5,538.6 143.3,540.1 143.0,542.4 143.9,544.3 145.1,546.1 146.2,547.9 146.4,550.1 147.7,551.9 148.8,553.7 149.2,555.8 149.9,558.0 150.3,560.2 150.7,562.4 150.9,564.7 151.7,566.8 151.3,569.2 152.3,571.3 152.1,573.5 153.1,575.3 154.5,576.9 155.4,578.7 155.5,580.8 156.4,582.6 159.0,583.0 161.6,583.7 161.9,585.8 163.6,587.2 164.5,589.0 166.0,590.4 166.7,592.3 167.8,594.0 169.0,595.7 169.8,597.6 169.4,599.8 170.8,601.5 171.1,603.5 170.8,605.6 171.9,607.4 172.9,609.7 175.2,610.7 177.1,612.2 178.2,614.4 180.2,615.7 181.3,617.7 183.1,619.0 185.2,620.0 186.4,621.9 188.0,623.3 188.7,625.4 191.0,626.1 191.8,628.1 192.7,630.1 194.6,631.2 195.3,633.2 197.3,634.2 198.3,636.0 199.4,637.6 201.1,639.0 201.7,641.0 202.9,642.6 205.0,642.1 207.1,643.0 209.1,642.0 211.2,642.6 213.4,643.3 215.5,644.3 217.3,645.7 219.4,646.7 221.5,645.2 223.6,646.7 225.4,645.3 226.2,643.1 227.7,641.5 229.7,642.3 231.6,643.6 233.9,643.6 235.9,643.8 237.9,644.3 240.0,644.3 241.5,645.9 243.1,647.4 245.2,646.1 246.9,644.3 248.3,642.3 249.4,644.3 251.4,645.4 253.4,646.5 254.5,648.5 255.7,646.8 256.0,644.5 257.6,643.0 258.6,641.2 260.8,643.2 262.7,645.4 263.9,642.4 266.9,641.2 269.1,642.6 271.0,644.3 272.6,641.8 275.1,640.2 277.3,641.0 279.2,642.1 280.3,644.3 281.9,642.6 283.5,640.8 284.1,638.3 285.6,636.5 287.5,635.0 289.8,636.0 292.0,637.3 293.7,639.2 295.0,636.9 295.2,634.1 296.8,631.9 299.0,630.8 299.5,627.7 301.5,626.4 304.0,625.7 306.0,626.5 308.2,626.2 310.2,626.8 311.4,624.7 314.5,625.8 315.9,624.0 317.5,622.6 319.9,622.4 322.1,620.4 324.7,621.6 327.1,619.9 328.8,617.5 330.2,619.2 331.7,620.8 333.0,622.6 335.0,622.0 337.0,620.8 339.2,621.6 340.1,619.4 342.2,618.4 343.9,617.0 345.2,615.2 346.4,613.3 348.5,613.5 350.5,613.4 352.6,613.3 354.3,611.7 356.7,610.5 357.2,607.9 358.8,606.1 361.0,604.2 364.0,604.0 365.9,605.7 368.1,607.1 370.0,605.5 371.9,603.8 374.3,603.0 376.1,601.5 378.6,601.8 380.4,600.3 382.6,599.9 384.5,597.7 386.7,595.8 388.8,597.1 389.7,599.7 391.9,601.0 393.5,599.5 395.3,598.2 396.7,596.3 399.1,595.8 400.8,594.1 403.2,593.7 404.9,595.7 407.4,596.8 409.1,595.0 411.8,594.7 413.7,593.2 415.6,591.7 417.6,593.4 419.8,594.8 421.4,593.6 422.9,592.2 424.9,591.4 426.0,589.6 428.0,589.7 430.0,589.8 432.0,588.4 434.5,588.6 436.1,586.8 438.6,585.8 439.2,583.0 441.4,581.8 443.1,583.2 444.8,584.6 446.1,586.6 448.2,587.5 448.9,585.4 451.2,584.3 451.1,581.7 452.8,580.3 453.9,578.4 456.6,579.6 458.4,581.8 459.9,579.9 461.0,577.6 462.0,575.4 464.1,573.9 466.2,573.2 467.8,571.7 470.2,571.7 472.0,570.5 474.6,570.9 474.4,574.2 476.6,575.0 477.7,573.0 479.8,571.5 480.4,569.2 481.1,567.0 481.7,569.3 482.5,571.5 483.4,573.8 483.4,576.3 484.5,578.4 486.0,576.9 487.0,574.8 489.1,573.9 492.5,575.0 493.9,573.0 495.7,571.2 496.9,569.1 498.2,567.0 499.5,565.2 500.8,563.4 500.4,560.6 502.9,559.6 504.7,558.1 505.0,555.7 506.1,557.6 507.9,559.0 509.7,560.4 510.7,562.5 511.6,560.6 513.9,559.8 513.9,557.3 515.2,555.7 515.5,557.9 516.5,559.9 516.7,562.2 518.4,564.0 519.5,566.0 519.3,568.3 519.8,570.5 520.2,568.4 518.8,566.0 520.4,564.0 520.9,561.9 521.0,559.7 521.1,557.5 520.4,555.3 521.3,553.2 522.0,551.1 524.0,552.0 524.9,554.2 526.7,555.4 528.2,556.9 530.0,558.0 529.7,555.6 530.4,553.5 531.8,551.6 532.2,549.4 533.4,547.5 533.0,545.1 533.6,542.9 534.5,540.9 536.9,541.0 539.0,539.7 541.4,539.8 543.8,541.3 545.9,543.2 545.9,545.7 546.3,548.0 548.2,549.9 549.4,552.0 549.3,554.5 550.0,552.5 549.7,550.0 552.6,549.1 554.0,547.4 554.3,545.2 555.0,543.2 556.8,544.3 558.3,545.6 559.4,547.3 560.7,548.9 561.6,546.8 562.6,544.8 563.4,542.8 564.4,540.8 564.2,538.4 565.3,536.4 565.2,534.1 567.6,535.1 568.1,537.4 568.5,539.6 570.2,541.1 570.9,543.2 572.6,544.5 574.0,546.0 575.4,547.7 577.2,548.8 578.9,550.0 579.4,548.0 579.4,546.0 580.1,544.1 580.8,542.1 580.1,540.0 580.9,538.1 581.0,536.1 581.1,534.1 580.9,532.0 581.4,530.0 581.8,528.1 582.3,526.1 583.5,528.2 585.0,530.1 586.8,531.8 588.2,533.4 590.2,534.1 592.2,535.5 594.6,536.4 596.1,538.5 598.2,539.8 597.9,537.4 600.4,536.1 601.7,534.3 601.0,531.8 602.0,529.9 601.9,527.6 603.9,526.1 605.1,528.0 606.3,530.0 607.1,532.2 608.4,534.1 609.6,532.2 610.2,530.0 611.8,528.3 612.6,526.2 613.0,523.9 614.1,525.6 614.4,527.7 616.4,529.0 617.5,530.7 617.5,533.0 617.8,530.6 620.4,529.3 619.8,526.5 620.8,524.4 622.2,522.5 623.2,520.5 625.5,520.5 627.7,521.0 630.0,520.5 631.5,522.2 633.8,522.5 635.7,523.6 636.7,525.4 637.6,527.2 638.4,529.1 639.2,531.0 639.7,533.0 640.2,535.0 640.8,537.0 641.0,539.1 641.8,541.0 642.9,542.7 643.0,544.9 644.7,546.5 644.8,548.6 644.4,550.9 645.3,552.8 645.2,554.9 646.7,556.7 648.0,558.5 646.7,561.0 648.4,562.7 649.3,564.6 649.3,566.8 650.9,568.5 651.4,570.5 650.4,572.8 650.6,574.8 651.7,576.7 650.8,579.0 652.3,580.7 652.7,582.7 652.6,584.8 654.0,586.6 654.3,588.7 654.9,590.7 654.2,592.9 654.9,594.8 655.3,596.9 655.5,598.9 656.1,600.9 656.9,603.2 657.6,605.5 660.2,607.1 659.5,610.0 661.7,608.8 663.6,607.3 665.2,605.5 667.8,604.9 669.8,603.2 670.5,605.1 671.7,606.8 672.7,608.6 672.2,611.0 674.0,612.5 674.3,614.5 674.4,616.8 675.4,618.8 676.8,620.7 676.8,623.0 676.8,625.3 678.1,627.2 678.9,629.3 680.4,631.0 680.1,633.2 681.0,635.1 681.3,637.2 682.1,639.1 682.4,641.2 683.4,643.0 685.2,644.3 686.4,646.1 688.0,647.5 689.7,645.9 690.6,643.9 691.4,641.8 692.1,639.9 692.7,637.9 693.7,636.0 694.3,634.0 694.6,632.0 693.8,629.6 694.6,627.7 695.9,625.9 696.3,623.9 697.4,622.1 697.6,620.0 698.1,617.9 699.7,616.4 700.5,614.5 700.5,612.3 700.9,610.2 701.5,608.1 701.9,606.0 703.0,604.0 703.9,602.0 703.9,599.8 704.4,597.6 704.9,595.4 706.5,593.7 706.5,591.3 707.5,589.3 708.4,587.3 709.1,585.3 710.0,583.3 712.2,582.1 712.5,579.9 713.8,578.1 714.1,575.9 716.4,574.8 717.5,572.5 718.9,574.5 721.5,575.5 722.0,578.2 724.0,577.8 726.0,577.1 727.7,575.9 730.1,576.9 731.4,579.0 732.3,581.5 734.5,582.7 736.6,581.5 738.7,580.2 740.2,578.2 742.4,578.6 744.0,580.3 746.2,580.7 748.2,581.6 751.1,581.5 753.9,580.5 756.0,581.6 756.8,583.8 759.2,584.7 759.5,587.3 761.3,588.8 762.5,590.7 763.7,592.7 765.3,594.4 766.4,596.4 768.3,597.2 769.6,598.9 771.6,599.7 773.2,600.9 775.1,602.4 775.3,604.8 776.0,607.0 777.9,608.4 779.5,610.0 780.0,612.3 780.2,614.6 781.4,616.4 783.7,617.8 783.5,620.2 784.5,622.1 783.8,624.8 786.0,626.2 786.8,628.2 788.9,629.7 789.4,632.4 790.5,634.5 792.5,636.1 794.7,637.6 794.8,640.2 796.1,642.2 796.6,644.6 798.2,646.4 799.5,648.1 801.6,649.0 802.7,650.9 804.5,649.6 806.1,648.0 807.1,645.8 809.5,645.2 809.6,643.0 811.5,641.6 812.3,639.7 813.8,638.2 813.4,635.8 814.4,634.0 814.0,631.6 816.4,630.4 816.4,628.2 816.4,625.9 817.3,623.9 818.7,622.1 818.6,619.8 821.4,618.5 820.1,615.8 820.2,613.5 821.6,611.7 823.0,609.9 823.2,607.7 823.3,605.5 825.2,603.9 825.9,602.0 825.0,599.4 827.1,597.9 827.5,595.8 828.3,593.8 828.9,591.8 829.5,593.9 830.0,596.0 831.3,597.8 831.5,600.1 832.5,602.0 833.2,604.1 832.5,606.4 833.1,608.4 833.2,610.6 834.2,612.6 834.4,614.8 835.1,616.8 835.1,619.0 836.3,620.9 836.2,623.3 838.1,625.0 837.6,627.5 839.0,625.8 839.0,623.6 838.2,621.2 840.2,619.7 841.3,617.8 841.0,615.6 842.1,613.7 841.4,611.5 842.1,609.5 841.2,607.2 843.0,605.4 843.6,603.4 843.6,601.4 843.8,599.3 844.1,597.2 844.4,595.2 845.2,593.3 844.6,591.1 844.6,589.0 845.6,587.1 847.8,585.5 847.0,583.3 849.1,582.8 850.4,581.1 852.1,579.9 851.5,577.7 853.3,576.1 853.0,573.9 856.0,572.6 854.8,570.3 854.4,568.1 855.5,566.3 857.2,564.1 859.7,562.9 860.3,560.9 860.7,558.8 861.5,556.8 862.1,554.8 863.4,553.0 864.0,551.0 865.2,548.9 864.5,546.5 865.6,544.4 866.0,542.1 866.5,539.9 867.0,537.6 869.3,537.0 870.8,535.7 871.3,533.7 871.1,531.5 872.5,529.7 874.7,528.9 877.1,528.8 879.3,528.0 881.1,529.4 882.1,531.4 883.5,533.1 884.9,531.3 885.7,529.2 886.9,527.3 887.6,525.2 887.8,522.9 888.9,524.8 890.1,526.7 891.5,528.5 891.7,530.9 893.7,532.3 895.9,533.9 898.0,532.3 900.4,533.1 902.1,535.4 904.8,535.7 906.7,534.7 907.7,532.9 909.0,531.4 910.2,533.4 911.9,534.9 912.8,537.1 915.0,538.2 915.7,536.0 915.7,533.7 917.0,531.7 916.6,529.2 918.4,527.4 918.6,525.1 919.2,522.9 919.3,525.2 919.3,527.5 920.4,529.5 921.4,531.6 922.0,533.7 923.7,535.7 922.6,538.2 925.1,536.8 927.7,535.7 929.2,537.7 928.6,540.1 929.7,542.2 929.2,544.6 930.3,546.7 930.3,548.8 931.6,550.9 931.2,553.1 931.3,555.2 930.5,557.4 931.1,559.5 931.6,561.6 932.2,563.7 931.9,565.9 932.0,568.0 931.8,565.9 933.7,564.3 933.8,562.3 933.5,560.1 934.3,558.2 935.4,556.5 935.4,554.4 934.2,556.7 937.0,558.2 937.1,560.2 936.1,562.5 937.2,564.4 937.9,566.3 938.0,568.3 938.3,570.3 939.8,572.0 939.5,574.2 940.2,576.0 941.2,577.9 941.3,579.9 942.7,578.0 941.5,575.7 941.0,573.5 942.5,571.6 941.5,569.3 942.6,567.4 941.7,565.1 943.7,563.3 943.9,561.2 944.8,563.5 946.4,565.4 946.4,568.0 947.7,566.0 947.0,563.7 947.4,561.6 948.6,559.6 948.4,557.4 949.0,555.3 948.7,553.1 948.8,550.9 949.1,548.8 949.8,546.7 949.9,548.8 950.8,550.7 950.6,552.8 951.4,554.7 952.5,556.7 952.7,558.7 952.0,560.9 952.4,562.9 953.1,560.9 952.7,558.5 954.7,556.9 954.3,554.5 955.8,552.7 956.2,554.8 957.4,556.8 957.8,558.9 957.2,561.2 957.0,563.4 956.8,565.6 958.5,567.5 958.3,569.7 958.6,567.4 959.0,565.1 960.1,563.0 961.7,561.2 962.5,560.0"/>
</g>
<g fill="none" stroke="#5078C8" stroke-width="1.5">
<polyline points="285.3,155 238.5,172.8 222,651"/>
<polyline points="619.5,69.1 659.7,100.7 659.8,612"/>
<polyline points="685.4,125.5 685.3,636.6"/>
<polyline points="801.1,228.4 801.3,697 686,702.4"/>
<polyline points="838.4,205.5 838.3,664.5"/>
</g>
<line x1="602.5" y1="224.1" x2="638.5" y2="209.8" stroke="#1a1a1a" stroke-width="1.25" stroke-dasharray="2.6 0.9"/><polygon points="654.6,203.4 639.3,214.6 635.8,205.7" fill="#000"/>
<line x1="728.4" y1="242.6" x2="708.8" y2="236.4" stroke="#1a1a1a" stroke-width="1.25" stroke-dasharray="2 2"/><polygon points="691.9,231.0 711.0,232.7 708.5,240.6" fill="#000"/>
<line x1="875.3" y1="238.1" x2="856.0" y2="228.7" stroke="#1a1a1a" stroke-width="1.25" stroke-dasharray="2.6 0.9"/><polygon points="841.6,221.7 858.7,225.3 855.0,233.0" fill="#000"/>
<line x1="618.6" y1="344.1" x2="644.6" y2="337.0" stroke="#1a1a1a" stroke-width="1.25" stroke-dasharray="2 2"/><polygon points="658.4,333.3 644.8,341.6 642.5,333.1" fill="#000"/>
<line x1="720.8" y1="370.3" x2="698.1" y2="359.7" stroke="#1a1a1a" stroke-width="1.25" stroke-dasharray="2.6 0.9"/><polygon points="683.1,352.7 700.6,356.5 697.3,363.7" fill="#000"/>
<line x1="866.6" y1="358.5" x2="855.0" y2="351.9" stroke="#1a1a1a" stroke-width="1.25" stroke-dasharray="2.6 0.9"/><polygon points="841.2,344.1 858.0,348.7 853.8,356.1" fill="#000"/>
<line x1="624.8" y1="474.5" x2="646.9" y2="467.7" stroke="#1a1a1a" stroke-width="1.25" stroke-dasharray="2 2"/><polygon points="660.8,463.5 647.1,471.9 644.8,464.2" fill="#000"/>
<line x1="718.2" y1="506.2" x2="695.9" y2="492.0" stroke="#1a1a1a" stroke-width="1.25"/><polygon points="682.1,483.2 699.1,489.0 694.5,496.1" fill="#000"/>
<line x1="879.9" y1="492.2" x2="859.7" y2="485.3" stroke="#1a1a1a" stroke-width="1.25" stroke-dasharray="2.6 0.9"/><polygon points="844.5,480.2 861.9,481.9 859.3,489.4" fill="#000"/>
<line x1="624.3" y1="637.1" x2="643.1" y2="622.4" stroke="#1a1a1a" stroke-width="1.25"/><polygon points="655.9,612.4 645.2,626.6 639.5,619.4" fill="#000"/>
<line x1="727.9" y1="673.6" x2="703.4" y2="662.3" stroke="#1a1a1a" stroke-width="1.25" stroke-dasharray="2.6 0.9"/><polygon points="689.2,655.7 706.1,658.9 702.6,666.5" fill="#000"/>
<line x1="867.5" y1="656.5" x2="852.7" y2="642.2" stroke="#1a1a1a" stroke-width="1.25"/><polygon points="840.8,630.7 856.4,639.8 850.4,646.0" fill="#000"/>
<text transform="matrix(0.9001,0,0,1.0591,284.20,150.70)" font-size="31" font-weight="bold" style="font-family:'DejaVu Sans',sans-serif">3368</text>
<text transform="matrix(0.8970,0,0,1.0545,545.05,63.10)" font-size="31" font-weight="bold" style="font-family:'DejaVu Sans',sans-serif">1690</text>
<text transform="matrix(0.8958,0,0,1.0727,675.66,113.60)" font-size="31" font-weight="bold" style="font-family:'DejaVu Sans',sans-serif">1596</text>
<text transform="matrix(0.8975,0,0,1.0636,602.75,710.70)" font-size="31" font-weight="bold" style="font-family:'DejaVu Sans',sans-serif">1149</text>
<text transform="matrix(0.8958,0,0,1.0455,817.26,707.60)" font-size="31" font-weight="bold" style="font-family:'DejaVu Sans',sans-serif">1026</text>
<text transform="matrix(1.1072,0,0,1.1800,554.58,235.90)" font-size="21.5" font-weight="bold">C=O</text>
<text transform="matrix(1.1047,0,0,1.1600,735.29,256.00)" font-size="21.5" font-weight="bold">C=C</text>
<text transform="matrix(0.9886,0,0,1.0115,874.32,245.50)" font-size="24" font-weight="bold">SO<tspan font-size="22" dy="8.6">3</tspan><tspan dy="-8.6">H</tspan></text>
<text transform="matrix(1.1072,0,0,1.1533,569.28,358.60)" font-size="21.5" font-weight="bold">C=O</text>
<text transform="matrix(1.1119,0,0,1.1533,721.48,385.20)" font-size="21.5" font-weight="bold">C=C</text>
<text transform="matrix(0.9902,0,0,1.0231,867.81,372.19)" font-size="24" font-weight="bold">SO<tspan font-size="22" dy="8.6">3</tspan><tspan dy="-8.6">H</tspan></text>
<text transform="matrix(1.1072,0,0,1.1800,572.88,489.60)" font-size="21.5" font-weight="bold">C=O</text>
<text transform="matrix(1.1023,0,0,1.1733,718.29,520.60)" font-size="21.5" font-weight="bold">C=C</text>
<text transform="matrix(0.9983,0,0,1.0269,879.31,506.56)" font-size="24" font-weight="bold">SO<tspan font-size="22" dy="8.6">3</tspan><tspan dy="-8.6">H</tspan></text>
<text transform="matrix(1.1025,0,0,1.1333,577.99,654.60)" font-size="21.5" font-weight="bold">C=O</text>
<text transform="matrix(1.0951,0,0,1.1600,730.00,687.90)" font-size="21.5" font-weight="bold">C=C</text>
<text transform="matrix(1.0080,0,0,1.0000,864.40,680.30)" font-size="24" font-weight="bold">SO<tspan font-size="22" dy="8.6">3</tspan><tspan dy="-8.6">H</tspan></text>
<text transform="matrix(1.0237,0,0,1.0454,304.50,812.2)" font-size="36" font-weight="bold">Wavenumber (cm<tspan font-size="23" dy="-15.5">-1</tspan><tspan dy="15.5">)</tspan></text>
<g stroke="#000" fill="none">
<line x1="51.9" y1="7.2" x2="964.4" y2="7.2" stroke-width="2.4"/>
<line x1="53" y1="6" x2="53" y2="724.1" stroke-width="2.2"/>
<line x1="51.9" y1="723" x2="964.4" y2="723" stroke-width="2.2"/>
<line x1="963.5" y1="6" x2="963.5" y2="724.1" stroke-width="1.8"/>
</g>
<g stroke="#000" stroke-width="2">
<line x1="52.8" y1="723" x2="52.8" y2="736.5"/>
<line x1="184.7" y1="723" x2="184.7" y2="736.5"/>
<line x1="316.6" y1="723" x2="316.6" y2="736.5"/>
<line x1="448.5" y1="723" x2="448.5" y2="736.5"/>
<line x1="580.4" y1="723" x2="580.4" y2="736.5"/>
<line x1="712.3" y1="723" x2="712.3" y2="736.5"/>
<line x1="844.2" y1="723" x2="844.2" y2="736.5"/>
<line x1="118.7" y1="723" x2="118.7" y2="729.5"/>
<line x1="250.6" y1="723" x2="250.6" y2="729.5"/>
<line x1="382.6" y1="723" x2="382.6" y2="729.5"/>
<line x1="514.4" y1="723" x2="514.4" y2="729.5"/>
<line x1="646.3" y1="723" x2="646.3" y2="729.5"/>
<line x1="778.2" y1="723" x2="778.2" y2="729.5"/>
<line x1="910.1" y1="723" x2="910.1" y2="729.5"/>
</g>
<g font-size="30" font-weight="bold" text-anchor="middle">
<text transform="matrix(0.9985,0,0,1.1000,52.90,770.2)">4000</text>
<text transform="matrix(0.9985,0,0,1.1000,184.80,770.2)">3500</text>
<text transform="matrix(0.9985,0,0,1.1000,316.70,770.2)">3000</text>
<text transform="matrix(0.9985,0,0,1.1000,448.60,770.2)">2500</text>
<text transform="matrix(0.9985,0,0,1.1000,580.50,770.2)">2000</text>
<text transform="matrix(0.9985,0,0,1.1000,712.40,770.2)">1500</text>
<text transform="matrix(0.9985,0,0,1.1000,844.30,770.2)">1000</text>
</g>
<text transform="translate(31.4,556.8) rotate(-90)" font-size="36.8" font-weight="bold">Transmittance (a.u.)</text>
<rect x="770.1" y="4.1" width="190.3" height="126.9" fill="#fff"/>
<line x1="770.1" y1="3.4" x2="770.1" y2="131" stroke="#aaa" stroke-width="1"/>
<line x1="769.6" y1="4.1" x2="961.1" y2="4.1" stroke="#777" stroke-width="1.5"/>
<line x1="960.4" y1="3.4" x2="960.4" y2="131.7" stroke="#666" stroke-width="1.5"/>
<line x1="769.6" y1="131" x2="961.1" y2="131" stroke="#666" stroke-width="1.5"/>
<g stroke-width="5" stroke-linecap="round">
<line x1="773" y1="20.85" x2="826" y2="20.85" stroke="#2DA862"/>
<line x1="773" y1="50.2" x2="826" y2="50.2" stroke="#1368D9"/>
<line x1="773" y1="79.9" x2="826" y2="79.9" stroke="#EC383B"/>
<line x1="773" y1="109.2" x2="826" y2="109.2" stroke="#434343"/>
</g>
<text transform="matrix(0.9260,0,0,0.9941,833.00,28.40)" font-size="24" font-weight="bold">WNS-1</text>
<text transform="matrix(0.9518,0,0,0.9529,833.00,57.40)" font-size="24" font-weight="bold">WNS-2</text>
<text transform="matrix(0.9554,0,0,0.9824,833.00,87.70)" font-size="24" font-weight="bold">WNS-3</text>
<text transform="matrix(0.9796,0,0,0.9913,833.00,116.75)" font-size="24" font-weight="bold">WNS-SO<tspan font-size="20" dy="5.5">3</tspan><tspan dy="-5.5">H</tspan></text>
</svg></body></html>
